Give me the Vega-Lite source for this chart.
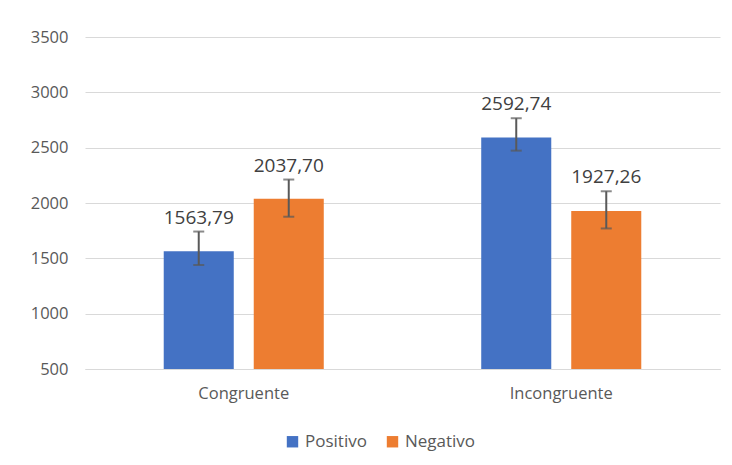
{
  "$schema": "https://vega.github.io/schema/vega-lite/v6.json",
  "autosize": "none",
  "width": 635,
  "height": 332,
  "padding": {"left": 85, "top": 37, "right": 12, "bottom": 96},
  "background": "white",
  "config": {
    "font": "Open Sans",
    "view": {"stroke": null},
    "locale": {"number": {"decimal": ",", "thousands": ".", "grouping": [3], "currency": ["", ""]}},
    "axis": {"labelFont": "Open Sans", "labelColor": "#595959", "labelFontSize": 16.5}
  },
  "data": {
    "values": [
      {"cond": "Congruente", "val": "Positivo", "mean": 1563.79, "lo": 1440, "hi": 1742},
      {"cond": "Congruente", "val": "Negativo", "mean": 2037.7, "lo": 1876, "hi": 2212},
      {"cond": "Incongruente", "val": "Positivo", "mean": 2592.74, "lo": 2473, "hi": 2766},
      {"cond": "Incongruente", "val": "Negativo", "mean": 1927.26, "lo": 1770, "hi": 2106}
    ]
  },
  "encoding": {
    "x": {
      "field": "cond", "type": "nominal", "title": null,
      "scale": {"paddingInner": 0.433, "paddingOuter": 0.2165},
      "axis": {"labelAngle": 0, "ticks": false, "domainColor": "#d9d9d9", "domainWidth": 1, "labelPadding": 16}
    },
    "xOffset": {"field": "val", "type": "nominal", "sort": ["Positivo", "Negativo"], "scale": {"paddingInner": 0.222, "paddingOuter": 0.111}}
  },
  "layer": [
    {
      "mark": {"type": "bar"},
      "encoding": {
        "y": {
          "field": "mean", "type": "quantitative", "title": null,
          "scale": {"domain": [500, 3500], "zero": false, "nice": false},
          "axis": {"values": [500, 1000, 1500, 2000, 2500, 3000, 3500], "format": "d", "domain": false, "ticks": false, "labelPadding": 17, "gridColor": "#d9d9d9", "gridWidth": 1}
        },
        "y2": {"datum": 500},
        "color": {
          "field": "val", "type": "nominal", "sort": ["Positivo", "Negativo"],
          "scale": {"domain": ["Positivo", "Negativo"], "range": ["#4472C4", "#ED7D31"]},
          "legend": {
            "title": null, "orient": "none", "direction": "horizontal", "legendX": 199, "legendY": 396,
            "symbolType": "square", "symbolSize": 130, "symbolStrokeWidth": 0, "symbolOpacity": 1,
            "labelFont": "Open Sans", "labelFontSize": 17, "labelColor": "#595959", "columnPadding": 17, "labelOffset": 4
          }
        }
      }
    },
    {
      "mark": {"type": "rule", "color": "#595959", "strokeWidth": 2},
      "encoding": {
        "y": {"field": "lo", "type": "quantitative"},
        "y2": {"field": "hi"}
      }
    },
    {
      "mark": {"type": "tick", "color": "#595959", "thickness": 2, "size": 11},
      "encoding": {"y": {"field": "lo", "type": "quantitative"}}
    },
    {
      "mark": {"type": "tick", "color": "#595959", "thickness": 2, "size": 11},
      "encoding": {"y": {"field": "hi", "type": "quantitative"}}
    },
    {
      "mark": {"type": "text", "baseline": "bottom", "dy": -4, "fontSize": 19, "color": "#404040", "font": "Open Sans"},
      "encoding": {
        "y": {"field": "hi", "type": "quantitative"},
        "text": {"field": "mean", "type": "quantitative", "format": ".2f"}
      }
    }
  ]
}
